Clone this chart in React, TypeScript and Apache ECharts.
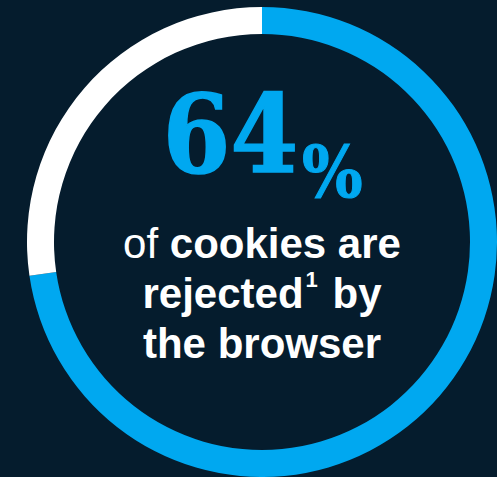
import React, { useEffect, useRef } from "react";
import * as echarts from "echarts";

const categories = ["Rejected", "Other"];
const values = [72.7, 27.3];
const colors = ["#00a8f0", "#ffffff"];
const headline = "64";
const headlineUnit = "%";

export default function App() {
  const ref = useRef<HTMLDivElement>(null);
  useEffect(() => {
    document.body.style.margin = "0";
    const chart = echarts.init(ref.current!, undefined, { renderer: "svg" });
    const bold = "'Liberation Sans', Arial, sans-serif";
    const serif = "'DejaVu Serif Condensed', 'DejaVu Serif', serif";
    chart.setOption({
      animation: false,
      backgroundColor: "#051c2d",
      series: [
        {
          type: "pie",
          silent: true,
          center: [262, 242],
          radius: [208, 235],
          startAngle: 90,
          clockwise: true,
          label: { show: false },
          labelLine: { show: false },
          itemStyle: { borderWidth: 0 },
          data: categories.map((c, i) => ({
            name: c,
            value: values[i],
            itemStyle: { color: colors[i] },
          })),
        },
      ],
      graphic: [
        {
          type: "text",
          x: 298,
          y: 188,
          style: {
            text: headline,
            font: `bold 108px ${serif}`,
            fill: colors[0],
            stroke: colors[0],
            lineWidth: 1.5,
            align: "right",
            verticalAlign: "bottom",
          },
        },
        {
          type: "text",
          x: 302,
          y: 207,
          style: {
            text: headlineUnit,
            font: `bold 71px ${serif}`,
            fill: colors[0],
            stroke: colors[0],
            lineWidth: 1,
            align: "left",
            verticalAlign: "bottom",
          },
        },
        {
          type: "text",
          x: 262,
          y: 218,
          style: {
            text:
              "{r|of }{b|cookies are}\n{b|rejected}{s|1}{b| by}\n{b|the browser}",
            align: "center",
            verticalAlign: "top",
            rich: {
              r: { font: `42px ${bold}`, fill: "#ffffff", lineHeight: 50 },
              b: { font: `bold 42px ${bold}`, fill: "#ffffff", lineHeight: 50 },
              s: {
                font: `bold 22px ${bold}`,
                fill: "#ffffff",
                lineHeight: 50,
                verticalAlign: "top",
                padding: [0, 3, 8, 2],
              },
            },
          },
        },
      ],
    });
    return () => chart.dispose();
  }, []);
  return <div ref={ref} style={{ width: 497, height: 477 }} />;
}
